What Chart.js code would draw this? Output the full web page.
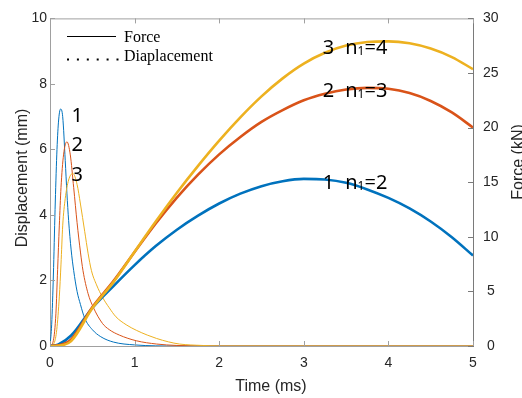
<!DOCTYPE html>
<html><head><meta charset="utf-8">
<script src="https://cdn.jsdelivr.net/npm/chart.js@4/dist/chart.umd.min.js"></script>
<style>html,body{margin:0;padding:0;background:#fff}#wrap{width:522px;height:398px}</style>
</head><body><div id="wrap"><canvas id="c" width="522" height="398"></canvas></div>
<script>
// ---- data ----
const timeTicks  = [0, 1, 2, 3, 4, 5];
const dispTicks  = [0, 2, 4, 6, 8, 10];
const forceTicks = [0, 5, 10, 15, 20, 25, 30];

// displacement (mm), left axis
const dispTime = [0, 0.1, 0.25, 0.5, 0.75, 1.0, 1.25, 1.5, 1.75, 2.0, 2.25, 2.5, 2.75, 3.0, 3.25, 3.5, 3.75, 4.0, 4.25, 4.5, 4.75, 5.0];
const disp1 = [0, 0.05, 0.32, 1.16, 1.83, 2.47, 3.05, 3.55, 3.98, 4.35, 4.65, 4.88, 5.03, 5.1, 5.08, 4.98, 4.78, 4.52, 4.2, 3.8, 3.32, 2.76];
const disp2 = [0, 0.02, 0.2, 1.18, 1.98, 2.87, 3.74, 4.53, 5.23, 5.85, 6.38, 6.84, 7.2, 7.5, 7.7, 7.83, 7.88, 7.85, 7.72, 7.48, 7.13, 6.67];
const disp3 = [0, 0.01, 0.15, 1.15, 1.95, 2.88, 3.8, 4.68, 5.5, 6.27, 6.98, 7.62, 8.17, 8.62, 8.95, 9.17, 9.28, 9.3, 9.24, 9.08, 8.82, 8.45];

// force (kN), right axis
const forceTime1 = [0, 0.02, 0.04, 0.06, 0.08, 0.1, 0.125, 0.15, 0.18, 0.2, 0.22, 0.25, 0.28, 0.32, 0.36, 0.41, 0.5, 0.6, 0.75, 1.0, 1.5, 5.0];
const force1     = [0, 2, 6.5, 12.5, 17.5, 20.5, 21.7, 21, 17, 14, 11.5, 8.8, 6.9, 5.0, 3.8, 2.55, 1.5, 0.85, 0.36, 0.1, 0, 0];
const forceTime2 = [0, 0.04, 0.07, 0.09, 0.11, 0.13, 0.16, 0.2, 0.24, 0.28, 0.32, 0.36, 0.39, 0.45, 0.51, 0.62, 0.7, 0.82, 1.02, 1.26, 1.5, 2.0, 5.0];
const force2     = [0, 0.5, 3, 7, 11, 14.5, 17.5, 18.7, 17.5, 14.5, 11.3, 8.6, 6.9, 4.8, 3.57, 2.07, 1.5, 1.0, 0.48, 0.18, 0.05, 0, 0];
const forceTime3 = [0, 0.05, 0.08, 0.11, 0.13, 0.15, 0.18, 0.22, 0.27, 0.32, 0.36, 0.41, 0.45, 0.49, 0.55, 0.62, 0.7, 0.78, 0.9, 1.02, 1.15, 1.26, 1.4, 1.53, 1.8, 2.0, 5.0];
const force3     = [0, 0.3, 1.5, 4.5, 7.5, 11, 13.5, 15.2, 15.8, 14.8, 13, 10.5, 8.5, 6.9, 5.6, 4.47, 3.5, 2.67, 1.95, 1.44, 1.0, 0.69, 0.38, 0.18, 0.05, 0, 0];

const peakLabels   = ['1', '2', '3'];
const curveNumbers = ['1', '2', '3'];
const curveN       = ['2', '3', '4'];   // n1 values
const legendLabels = ['Force', 'Diaplacement'];
const xTitle = 'Time (ms)';
const yTitle = 'Displacement (mm)';
const y1Title = 'Force (kN)';

// ---- styling ----
const COLORS = ['#0072BD', '#D95319', '#EDB120'];
const TICK_FONT = {family: "'Liberation Sans', Arial, sans-serif", size: 14};
const TXT = '#262626';

const pts = (xs, ys) => xs.map((t, i) => ({x: t, y: ys[i]}));
const dispSeries = [disp1, disp2, disp3];
const forceSeries = [[forceTime1, force1], [forceTime2, force2], [forceTime3, force3]];

const datasets = [];
[2, 1, 0].forEach((k, idx) => datasets.push({
  label: 'Displacement ' + (k + 1), data: pts(dispTime, dispSeries[k]), yAxisID: 'y',
  borderColor: COLORS[k], borderWidth: 2.6, pointRadius: 0, cubicInterpolationMode: 'monotone', order: idx
}));
[2, 1, 0].forEach((k, idx) => datasets.push({
  label: 'Force ' + (k + 1), data: pts(forceSeries[k][0], forceSeries[k][1]), yAxisID: 'y1',
  borderColor: COLORS[k], borderWidth: 1, pointRadius: 0, cubicInterpolationMode: 'monotone', order: 3 + idx
}));

const AX_L = '#a0a0a0', AX_R = '#7a7a7a';

const decor = {
  id: 'decor',
  afterDraw(chart) {
    const {ctx, chartArea: a, scales: {x, y, y1}} = chart;
    ctx.save();
    // top border
    ctx.strokeStyle = AX_L; ctx.lineWidth = 1;
    ctx.beginPath(); ctx.moveTo(a.left, a.top + 0.5); ctx.lineTo(a.right, a.top + 0.5); ctx.stroke();
    // inward ticks
    ctx.beginPath();
    timeTicks.forEach(t => {
      const px = Math.round(x.getPixelForValue(t)) + 0.5;
      ctx.moveTo(px, a.bottom); ctx.lineTo(px, a.bottom - 5);
      ctx.moveTo(px, a.top); ctx.lineTo(px, a.top + 5);
    });
    dispTicks.forEach(v => {
      const py = Math.round(y.getPixelForValue(v)) + 0.5;
      ctx.moveTo(a.left, py); ctx.lineTo(a.left + 5, py);
    });
    ctx.stroke();
    ctx.strokeStyle = AX_R;
    ctx.beginPath();
    forceTicks.forEach(v => {
      const py = Math.round(y1.getPixelForValue(v)) + 0.5;
      ctx.moveTo(a.right, py); ctx.lineTo(a.right - 5, py);
    });
    ctx.stroke();

    // axis titles
    ctx.fillStyle = TXT;
    ctx.font = "16px 'Liberation Sans', Arial, sans-serif";
    ctx.textAlign = 'center'; ctx.textBaseline = 'alphabetic';
    ctx.fillText(xTitle, 271, 391);
    ctx.save(); ctx.translate(27, 178); ctx.rotate(-Math.PI / 2); ctx.fillText(yTitle, 0, 0); ctx.restore();
    ctx.save(); ctx.translate(523, 162); ctx.rotate(-Math.PI / 2); ctx.fillText(y1Title, 0, 0); ctx.restore();

    // legend
    ctx.strokeStyle = '#000'; ctx.lineWidth = 1;
    ctx.beginPath(); ctx.moveTo(67, 36.5); ctx.lineTo(116, 36.5); ctx.stroke();
    ctx.fillStyle = '#000';
    for (let i = 0; i < 6; i++) { ctx.fillRect(67 + i * 9.9, 58.5, 2, 2); }
    ctx.font = "16px 'Liberation Serif', 'Times New Roman', serif";
    ctx.textAlign = 'left';
    ctx.fillText(legendLabels[0], 124, 41.5);
    ctx.fillText(legendLabels[1], 124, 61);

    // curve annotations (placed via data scales)
    const BIG = "20px 'Noto Sans', sans-serif", SMALL = "12px 'Noto Sans', sans-serif";
    ctx.font = BIG;
    ctx.fillStyle = '#000';
    const peakPos = [[0.254, 6.85], [0.254, 5.94], [0.254, 5.03]];
    peakLabels.forEach((s, i) => ctx.fillText(s, x.getPixelForValue(peakPos[i][0]), y.getPixelForValue(peakPos[i][1])));
    const notePos = [4.78, 7.6, 8.91];
    curveNumbers.forEach((s, i) => {
      const py = y.getPixelForValue(notePos[i]);
      ctx.font = BIG;
      ctx.fillText(s, x.getPixelForValue(3.225), py);
      let px = x.getPixelForValue(3.49);
      ctx.fillText('n', px, py); px += ctx.measureText('n').width;
      ctx.font = SMALL;
      ctx.fillText('1', px, py + 1); px += ctx.measureText('1').width;
      ctx.font = BIG;
      ctx.fillText('=' + curveN[i], px, py);
    });
    ctx.restore();
  }
};

new Chart(document.getElementById('c'), {
  type: 'line',
  data: {datasets},
  options: {
    responsive: false, animation: false, devicePixelRatio: 1,
    layout: {padding: {top: 16, left: 0, right: 0, bottom: 0}},
    plugins: {legend: {display: false}, tooltip: {enabled: false}},
    scales: {
      x: {
        type: 'linear', position: 'bottom', min: 0, max: 5,
        afterBuildTicks: s => { s.ticks = timeTicks.map(v => ({value: v})); },
        afterFit: s => { s.height = 52; },
        grid: {display: false, drawTicks: false},
        border: {display: true, color: AX_L, width: 1},
        ticks: {font: TICK_FONT, color: TXT, padding: 9, maxRotation: 0}
      },
      y: {
        type: 'linear', position: 'left', min: 0, max: 10,
        afterBuildTicks: s => { s.ticks = dispTicks.map(v => ({value: v})); },
        afterFit: s => { s.width = 50; },
        grid: {display: false, drawTicks: false},
        border: {display: true, color: AX_L, width: 1},
        ticks: {font: TICK_FONT, color: TXT, padding: 3}
      },
      y1: {
        type: 'linear', position: 'right', min: 0, max: 30,
        afterBuildTicks: s => { s.ticks = forceTicks.map(v => ({value: v})); },
        afterFit: s => { s.width = 49; },
        grid: {display: false, drawTicks: false},
        border: {display: true, color: AX_R, width: 1},
        ticks: {font: TICK_FONT, color: TXT, padding: 10, crossAlign: 'center'}
      }
    }
  },
  plugins: [decor]
});
</script>
</body></html>
